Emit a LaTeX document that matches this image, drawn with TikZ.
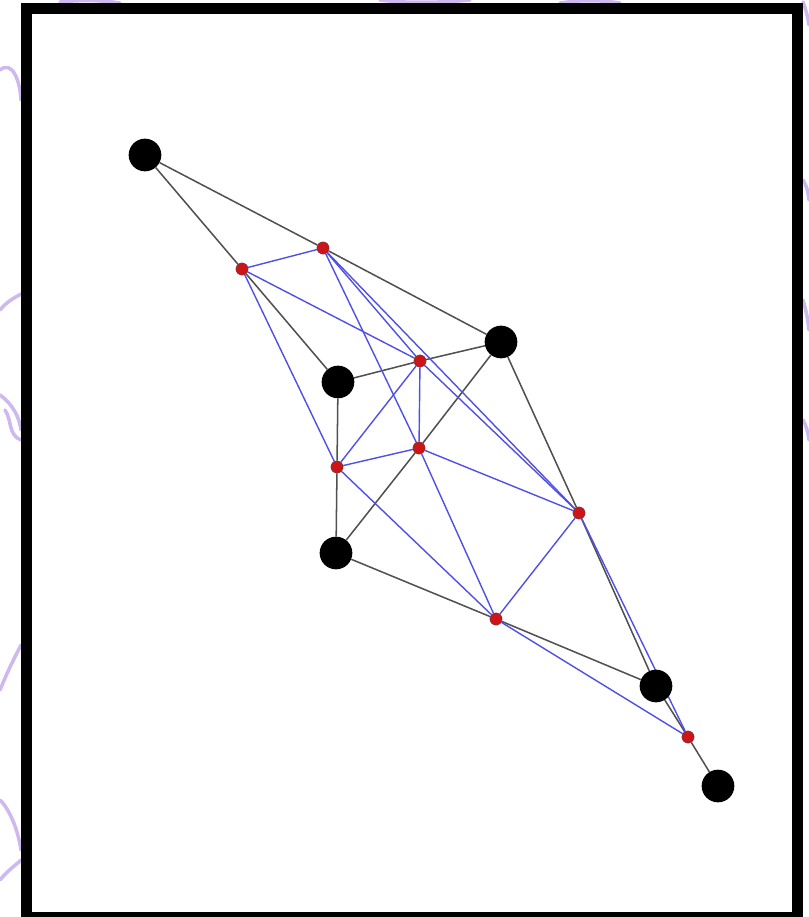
\documentclass[tikz,border=0pt]{standalone}
\usetikzlibrary{backgrounds}
\definecolor{edgegray}{RGB}{80,80,80}
\definecolor{medblue}{RGB}{80,80,230}
\definecolor{ptred}{RGB}{205,20,25}
\definecolor{scrib}{RGB}{205,185,238}
\tikzset{
    vert/.style={circle,fill=black,inner sep=0pt,minimum size=0.98cm},
    mid/.style={circle,fill=ptred,draw=black!70,line width=0.3pt,inner sep=0pt,minimum size=0.37cm},
    gedge/.style={edgegray,line width=1.3pt},
    medge/.style={medblue,line width=1.2pt}
}

\begin{document}
\begin{tikzpicture}[x=0.03cm,y=-0.03cm]
        \useasboundingbox (0,0) rectangle (809,917);
        \clip (0,0) rectangle (809,917);
        % scribbles behind the frame
        \draw[scrib, line width=3pt, line cap=round]
        (0,70) .. controls (12,60) and (20,80) .. (21,100)
        (0,310) .. controls (8,300) and (18,296) .. (21,294)
        (0,395) .. controls (14,405) and (20,420) .. (21,430)
        (5,410) .. controls (12,420) and (8,435) .. (21,440)
        (0,690) .. controls (8,670) and (16,655) .. (21,645)
        (0,800) .. controls (10,810) and (18,830) .. (21,850)
        (0,880) .. controls (8,870) and (16,865) .. (21,860)
        (803,2) .. controls (806,10) and (808,18) .. (809,25)
        (803,180) .. controls (806,185) and (808,190) .. (809,200)
        (803,300) .. controls (806,310) and (808,320) .. (809,330)
        (803,420) .. controls (806,425) and (808,432) .. (809,440)
        (60,2) .. controls (80,0) and (100,0) .. (120,3)
        (380,0) .. controls (400,3) and (440,3) .. (470,0)
        (560,3) .. controls (580,0) and (600,0) .. (620,3);
        \draw[black, line width=11*0.03cm] (26.5,8) rectangle (797.5,917.5);
        % the graph
        \node[vert] (b1) at (145,155) {};
        \node[vert] (b2) at (501,342) {};
        \node[vert] (b3) at (338,382) {};
        \node[vert] (b4) at (336,553) {};
        \node[vert] (b5) at (656,686) {};
        \node[vert] (b6) at (718,786) {};
        % midpoints of its edges
        \node[mid] (m13) at (242,269) {};
        \node[mid] (m12) at (323,248) {};
        \node[mid] (m23) at (420,361) {};
        \node[mid] (m24) at (419,448) {};
        \node[mid] (m34) at (337,467) {};
        \node[mid] (m25) at (579,513) {};
        \node[mid] (m45) at (496,619) {};
        \node[mid] (m56) at (688,737) {};
        \begin{pgfonlayer}{background}
            \foreach \a/\b in {b1/m13,m13/b3,b1/m12,m12/b2,b3/m23,m23/b2,b2/m24,m24/b4,
                b3/m34,m34/b4,b2/m25,m25/b5,b4/m45,m45/b5,b5/m56,m56/b6}
            \draw[gedge] (\a) -- (\b);
            \foreach \a/\b in {m13/m12,m13/m23,m13/m34,m23/m34,m12/m23,m12/m24,m12/m25,
                m23/m24,m23/m25,m24/m25,m24/m34,m24/m45,m34/m45,m25/m45,m25/m56,m45/m56}
            \draw[medge] (\a) -- (\b);
        \end{pgfonlayer}
    \end{tikzpicture}
\end{document}
